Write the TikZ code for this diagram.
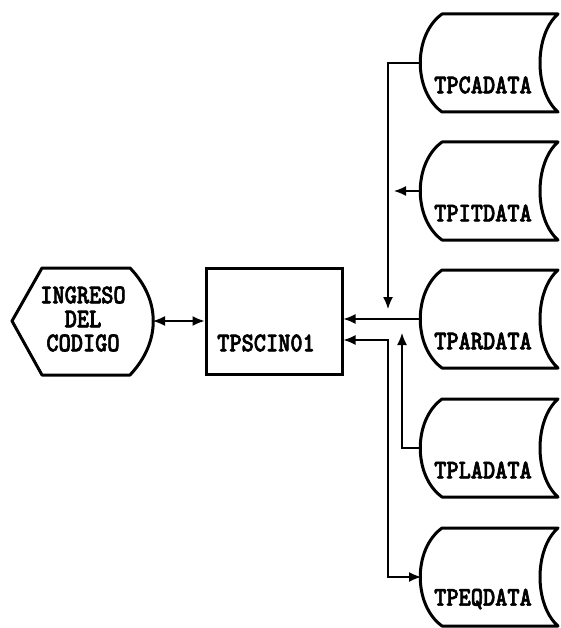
\documentclass[tikz,border=0pt]{standalone}
\usepackage{fontspec}
\usetikzlibrary{calc,arrows.meta,positioning}
\newfontfamily\codefont{lmmonolt10-bold.otf}[FakeStretch=0.86,FakeBold=2.2]
\tikzset{
  shapeline/.style={black,line width=3pt,line join=round},
  link/.style={black,line width=1.4pt},
  tip/.style={-{Latex[length=12pt,width=10pt]}},
  twotip/.style={{Latex[length=12pt,width=10pt]}-{Latex[length=12pt,width=10pt]}},
  lbl/.style={font=\codefont\fontsize{27}{24}\selectfont,inner sep=0pt,align=center},
  procbox/.style={draw,line width=3pt,minimum width=136pt,minimum height=106pt,inner sep=0pt}
}
% data file symbol: name, middle y, label
\newcommand{\DataStore}[3]{%
  \draw[shapeline] (442,#2-49) -- (558,#2-49)
    .. controls (534,#2-28) and (534,#2+28) .. (558,#2+49)
    -- (442,#2+49) .. controls (413,#2+28) and (413,#2-28) .. cycle;
  \coordinate (#1) at (421,#2);
  \node[lbl] (#1-lbl) at (483,#2+22) {#3};}

\begin{document}
\begin{tikzpicture}[x=1pt,y=-1pt]
  \useasboundingbox (0,0) rectangle (561,628);
  % display symbol
  \draw[shapeline] (12,321) -- (42,268) -- (130,268)
    .. controls (161,300) and (161,342) .. (130,375) -- (42,375) -- cycle;
  \coordinate (ingreso) at (153,321);
  \node[lbl] (ingreso-lbl) at (83,319) {INGRESO\\DEL\\CODIGO};
  % main program
  \node[procbox] (tpscin) at (274,321) {};
  \node[lbl] (tpscin-lbl) at (266,343) {TPSCIN01};
  % files
  \DataStore{ca}{63}{TPCADATA}
  \DataStore{it}{191}{TPITDATA}
  \DataStore{ar}{319}{TPARDATA}
  \DataStore{la}{448}{TPLADATA}
  \DataStore{eq}{577}{TPEQDATA}
  \coordinate (busA) at (388,340);
  \coordinate (busB) at (402,0);
  % connectors
  \draw[link,twotip] (ingreso) -- (tpscin.west);
  \draw[link,tip] (ar) -- (ar -| tpscin.east);
  \draw[link,tip,shorten >=10pt] (ca) -- (ca -| busA) -- (ar -| busA);
  \draw[link,tip,shorten >=6pt] (it) -- (it -| busA);
  \draw[link,tip,shorten >=14pt] (la) -- (la -| busB) -- (ar -| busB);
  \draw[link,twotip] (busA -| tpscin.east) -- (busA) -- (busA |- eq) -- (eq);
\end{tikzpicture}
\end{document}
